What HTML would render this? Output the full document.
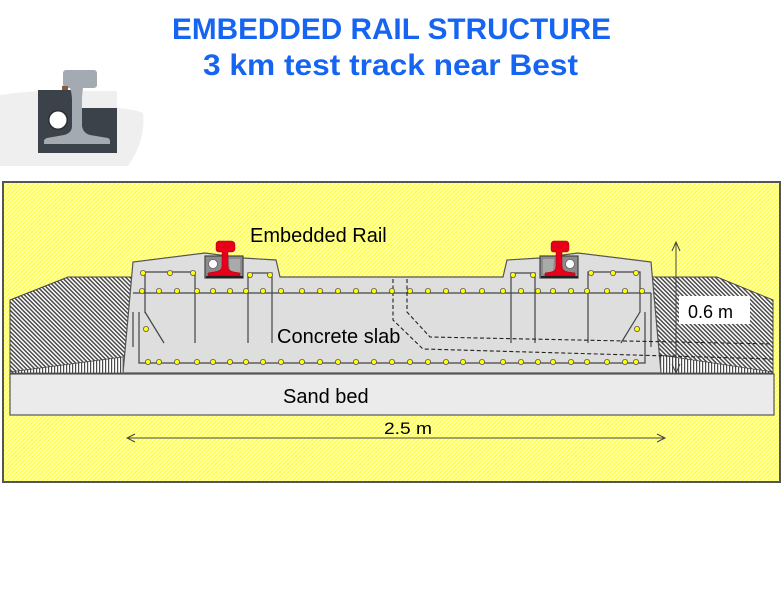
<!DOCTYPE html>
<html><head><meta charset="utf-8"><style>
html,body{margin:0;padding:0;background:#fff;}
svg{display:block;}
</style></head><body>
<svg width="783" height="592" viewBox="0 0 783 592" xmlns="http://www.w3.org/2000/svg">
<defs>
<pattern id="yel" width="3" height="3" patternUnits="userSpaceOnUse" patternTransform="rotate(45)">
<rect width="3" height="3" fill="#ffffb8"/>
<rect width="1.5" height="3" fill="#ffff48"/>
</pattern>
<pattern id="diag" width="3" height="3" patternUnits="userSpaceOnUse" patternTransform="rotate(-45)">
<rect width="3" height="3" fill="#ffffff"/>
<rect width="1.5" height="3" fill="#4a4a4a"/>
</pattern>
<pattern id="vert" width="3" height="3" patternUnits="userSpaceOnUse">
<rect width="3" height="3" fill="#ffffff"/>
<rect width="1.2" height="3" fill="#4a4a4a"/>
</pattern>
</defs>
<rect width="783" height="592" fill="#fff"/>

<!-- Title -->
<text x="172" y="39" textLength="439" lengthAdjust="spacingAndGlyphs" font-family="Liberation Sans, sans-serif" font-weight="bold" font-size="30" fill="#1565f2">EMBEDDED RAIL STRUCTURE</text>
<text x="203" y="75" textLength="375" lengthAdjust="spacingAndGlyphs" font-family="Liberation Sans, sans-serif" font-weight="bold" font-size="30" fill="#1565f2">3 km test track near Best</text>

<!-- Top-left rail picture -->
<path d="M0,95 Q20,92 40,91 L117,91 L117,108 Q134,109 143,113 Q146,140 128,166 L0,166 Z" fill="#efefef"/>
<path d="M38,90 L72,90 L72,108 L117,108 L117,153 L38,153 Z" fill="#3c424a"/>
<circle cx="58" cy="120" r="10" fill="#2a2e33"/>
<circle cx="58" cy="120" r="8.5" fill="#ffffff"/>
<path d="M66,70 L94,70 Q97,70 97,74 L97,85 Q97,88 93,88 L83,88 Q82,95 82,100 L82,126 Q83,133 90,135 L108,138 Q110,139 110,141 L110,144 L44,144 L44,141 Q44,139 47,138 L64,135 Q72,133 72,126 L72,100 Q72,94 70,88 L66,88 Q63,88 63,84 L63,74 Q63,70 66,70 Z" fill="#a4aab1"/>
<rect x="62" y="86" width="6" height="4" fill="#8a5a40"/>

<!-- Yellow box -->
<rect x="3" y="182" width="777" height="300" fill="url(#yel)" stroke="#555" stroke-width="2"/>

<!-- Sand bed -->
<rect x="10" y="374" width="764" height="41" fill="#ebebeb" stroke="#555" stroke-width="1.2"/>

<!-- Left embankment -->
<path d="M10,300 L68,277 L132,277 L123,373 L10,373 Z" fill="url(#diag)" stroke="#444" stroke-width="1"/>
<path d="M10,372 L123,357 L123,373 L10,373 Z" fill="url(#vert)" stroke="#444" stroke-width="0.8"/>
<!-- Right embankment -->
<path d="M652,277 L717,277 L773,300 L773,373 L661,373 Z" fill="url(#diag)" stroke="#444" stroke-width="1"/>
<path d="M660,355 L773,372 L773,373 L661,373 Z" fill="url(#vert)" stroke="#444" stroke-width="0.8"/>

<!-- Slab -->
<path d="M123,373 L133,262 L205,253 L243,258 L276,260 L280,277 L503,277 L507,260 L540,258 L578,253 L651,262 L661,373 Z" fill="#dedede" stroke="#555" stroke-width="1.2"/>

<!-- Reinforcement lines -->
<g stroke="#444" stroke-width="1.2" fill="none">
<line x1="133" y1="293" x2="651" y2="293"/>
<polyline points="139,312 139,363 645,363 645,312"/>
<line x1="133" y1="312" x2="133" y2="347"/>
<line x1="651" y1="293" x2="651" y2="347"/>
<polyline points="145,313 145,272 195,272 195,343"/>
<polyline points="145,312 164,343"/>
<polyline points="248,343 248,273 272,273 272,343"/>
<polyline points="511,343 511,273 535,273 535,343"/>
<polyline points="588,343 588,272 640,272 640,312 621,343"/>
</g>

<!-- Dashed lines -->
<g stroke="#222" stroke-width="1.1" fill="none" stroke-dasharray="4,2.5">
<polyline points="393,279 393,320 423,349 773,359"/>
<polyline points="407,279 407,312 430,337 773,344"/>
</g>

<!-- Dots -->
<g fill="#ffff00" stroke="#555" stroke-width="0.8">
<circle cx="142" cy="291" r="2.6"/><circle cx="159" cy="291" r="2.6"/><circle cx="177" cy="291" r="2.6"/><circle cx="197" cy="291" r="2.6"/><circle cx="213" cy="291" r="2.6"/><circle cx="230" cy="291" r="2.6"/><circle cx="246" cy="291" r="2.6"/><circle cx="263" cy="291" r="2.6"/><circle cx="281" cy="291" r="2.6"/><circle cx="302" cy="291" r="2.6"/><circle cx="320" cy="291" r="2.6"/><circle cx="338" cy="291" r="2.6"/><circle cx="356" cy="291" r="2.6"/><circle cx="374" cy="291" r="2.6"/><circle cx="392" cy="291" r="2.6"/><circle cx="410" cy="291" r="2.6"/><circle cx="428" cy="291" r="2.6"/><circle cx="446" cy="291" r="2.6"/><circle cx="463" cy="291" r="2.6"/><circle cx="482" cy="291" r="2.6"/><circle cx="503" cy="291" r="2.6"/><circle cx="521" cy="291" r="2.6"/><circle cx="538" cy="291" r="2.6"/><circle cx="553" cy="291" r="2.6"/><circle cx="571" cy="291" r="2.6"/><circle cx="587" cy="291" r="2.6"/><circle cx="607" cy="291" r="2.6"/><circle cx="625" cy="291" r="2.6"/><circle cx="642" cy="291" r="2.6"/>
<circle cx="148" cy="362" r="2.6"/><circle cx="159" cy="362" r="2.6"/><circle cx="177" cy="362" r="2.6"/><circle cx="197" cy="362" r="2.6"/><circle cx="213" cy="362" r="2.6"/><circle cx="230" cy="362" r="2.6"/><circle cx="246" cy="362" r="2.6"/><circle cx="263" cy="362" r="2.6"/><circle cx="281" cy="362" r="2.6"/><circle cx="302" cy="362" r="2.6"/><circle cx="320" cy="362" r="2.6"/><circle cx="338" cy="362" r="2.6"/><circle cx="356" cy="362" r="2.6"/><circle cx="374" cy="362" r="2.6"/><circle cx="392" cy="362" r="2.6"/><circle cx="410" cy="362" r="2.6"/><circle cx="428" cy="362" r="2.6"/><circle cx="446" cy="362" r="2.6"/><circle cx="463" cy="362" r="2.6"/><circle cx="482" cy="362" r="2.6"/><circle cx="503" cy="362" r="2.6"/><circle cx="521" cy="362" r="2.6"/><circle cx="538" cy="362" r="2.6"/><circle cx="553" cy="362" r="2.6"/><circle cx="571" cy="362" r="2.6"/><circle cx="587" cy="362" r="2.6"/><circle cx="607" cy="362" r="2.6"/><circle cx="625" cy="362" r="2.6"/><circle cx="636" cy="362" r="2.6"/>
<circle cx="143" cy="273" r="2.6"/><circle cx="170" cy="273" r="2.6"/><circle cx="193" cy="273" r="2.6"/>
<circle cx="250" cy="275" r="2.6"/><circle cx="270" cy="275" r="2.6"/>
<circle cx="513" cy="275" r="2.6"/><circle cx="533" cy="275" r="2.6"/>
<circle cx="591" cy="273" r="2.6"/><circle cx="613" cy="273" r="2.6"/><circle cx="636" cy="273" r="2.6"/>
<circle cx="146" cy="329" r="2.6"/><circle cx="637" cy="329" r="2.6"/>
</g>

<!-- Left rail -->
<rect x="205" y="256" width="38" height="22" fill="#8c8c8c" stroke="#444" stroke-width="1.2"/>
<path d="M229,259 L240,259 L240,274 L230,274 Z" fill="#aaaaaa"/>
<circle cx="213" cy="264" r="4.5" fill="#fff" stroke="#666" stroke-width="0.8"/>
<path d="M219,241 L231,241 Q235,241 235,245 L235,249 Q235,252 231,252 L228,252 L228,266 Q228,271 234,272 L240,273 L240,276 L208,276 L208,273 L214,272 Q222,271 222,266 L222,252 L219,252 Q216,252 216,249 L216,245 Q216,241 219,241 Z" fill="#e8001a" stroke="#a00010" stroke-width="0.5"/>
<rect x="206" y="276" width="37" height="2" fill="#222"/>

<!-- Right rail -->
<rect x="540" y="256" width="38" height="22" fill="#8c8c8c" stroke="#444" stroke-width="1.2"/>
<path d="M543,259 L554,259 L553,274 L543,274 Z" fill="#aaaaaa"/>
<circle cx="570" cy="264" r="4.5" fill="#fff" stroke="#666" stroke-width="0.8"/>
<path d="M554,241 L566,241 Q569,241 569,245 L569,249 Q569,252 566,252 L562,252 L562,266 Q562,271 568,272 L575,273 L575,276 L545,276 L545,273 L551,272 Q556,271 556,266 L556,252 L553,252 Q551,252 551,249 L551,245 Q551,241 554,241 Z" fill="#e8001a" stroke="#a00010" stroke-width="0.5"/>
<rect x="541" y="276" width="37" height="2" fill="#222"/>

<!-- 0.6 m dimension -->
<rect x="679" y="296" width="71" height="28" fill="#ffffff"/>
<g stroke="#444" stroke-width="1" fill="none">
<line x1="676" y1="242" x2="676" y2="373"/>
<polyline points="672,251 676,242 680,251"/>
<polyline points="672,364 676,373 680,364"/>
</g>
<text x="688" y="318" font-family="Liberation Sans, sans-serif" font-size="18" fill="#000">0.6 m</text>

<!-- 2.5 m dimension -->
<g stroke="#444" stroke-width="1" fill="none">
<line x1="127" y1="438" x2="665" y2="438"/>
<polyline points="135,434 127,438 135,442"/>
<polyline points="657,434 665,438 657,442"/>
</g>
<text x="384" y="434" textLength="48" lengthAdjust="spacingAndGlyphs" font-family="Liberation Sans, sans-serif" font-size="17" fill="#000">2.5 m</text>

<!-- Labels -->
<text x="250" y="242" font-family="Liberation Sans, sans-serif" font-size="20" fill="#000">Embedded Rail</text>
<text x="277" y="343" font-family="Liberation Sans, sans-serif" font-size="20" fill="#000">Concrete slab</text>
<text x="283" y="403" font-family="Liberation Sans, sans-serif" font-size="20" fill="#000">Sand bed</text>
</svg>
</body></html>
